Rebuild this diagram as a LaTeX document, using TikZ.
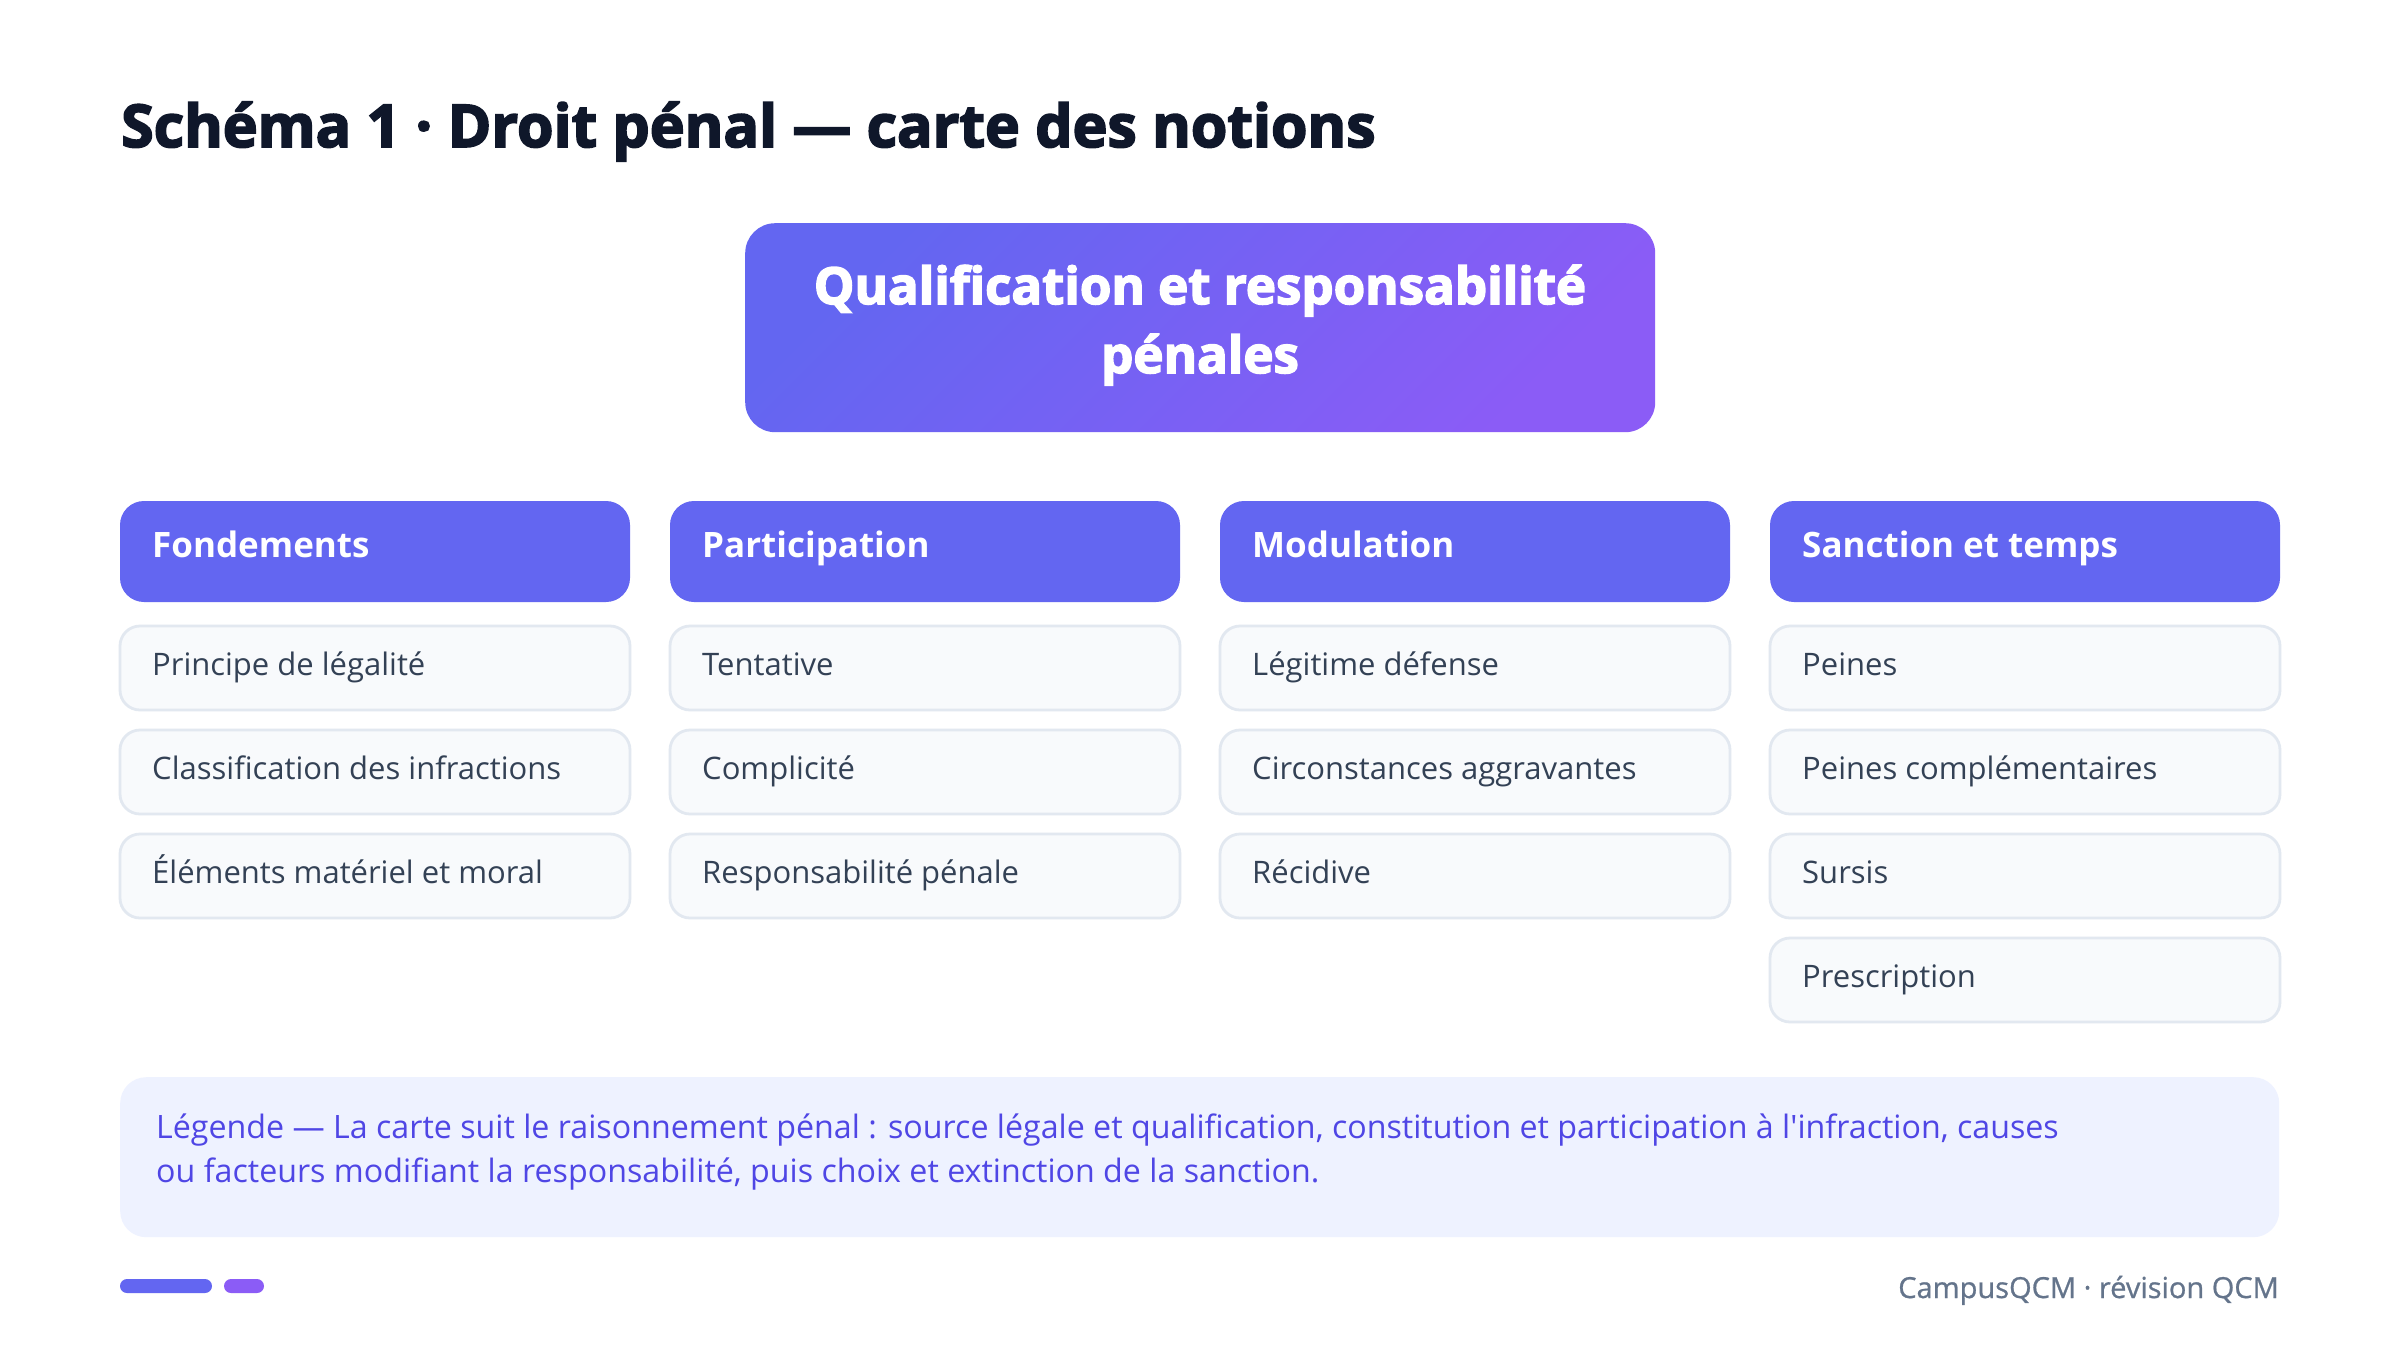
\documentclass[tikz,border=0pt]{standalone}
\usepackage{fontspec}
\setmainfont{Open Sans}
\newfontfamily\heavyfam{Open Sans}[UprightFont={* Bold}, FakeBold=3]
\newfontfamily\semifam{Open Sans}[FakeBold=0.8]
\newfontfamily\legfam{Open Sans}
\definecolor{ind}{HTML}{6366F1}
\definecolor{vio}{HTML}{8B5CF6}
\definecolor{ttl}{HTML}{0F172A}
\definecolor{itemfill}{HTML}{F8FAFC}
\definecolor{itemline}{HTML}{E2E8F0}
\definecolor{itemtext}{HTML}{334155}
\definecolor{legfill}{HTML}{EEF2FF}
\definecolor{legtext}{HTML}{4F46E5}
\definecolor{foottext}{HTML}{64748B}
\newcommand\ttlfont{\heavyfam\fontsize{59}{66}\selectfont}
\newcommand\ctrfont{\heavyfam\fontsize{51}{60}\selectfont}
\newcommand\hdrfont{\bfseries\fontsize{35}{42}\selectfont}
\newcommand\itmfont{\fontsize{31}{37}\selectfont}
\newcommand\legfont{\legfam\fontsize{32.2}{38}\selectfont}
\newcommand\ftrfont{\semifam\fontsize{29}{35}\selectfont}
\begin{document}
\begin{tikzpicture}[x=1pt,y=-1pt,
  hdr/.style={fill=ind, draw=none, rounded corners=24pt, minimum width=510pt, minimum height=101pt, anchor=north west, inner sep=0pt, outer sep=0pt},
  itembox/.style={fill=itemfill, draw=itemline, line width=2.8pt, rounded corners=20pt, minimum width=510pt, minimum height=84pt, anchor=north west, inner sep=0pt, outer sep=0pt},
  hdrtxt/.style={anchor=base west, inner sep=0pt, text=white, font=\hdrfont},
  itemtxt/.style={anchor=base west, inner sep=0pt, text=itemtext, font=\itmfont},
  ctrtxt/.style={anchor=base, inner sep=0pt, text=white, font=\ctrfont},
  legtxt/.style={anchor=base west, inner sep=0pt, text=legtext, font=\legfont},
]
\useasboundingbox[fill=white] (0,0) rectangle (2400,1347);

% title
\node[anchor=base west, inner sep=0pt, text=ttl, font=\ttlfont] (title) at (121,147) {Schéma 1 · Droit pénal — carte des notions};

% central box
\node[anchor=north west, minimum width=910pt, minimum height=209pt, rounded corners=30pt, left color=ind, right color=vio, shading angle=45, draw=none, inner sep=0pt] (core) at (745,223) {};
\node[ctrtxt] (core1) at (1200,304) {Qualification et responsabilité};
\node[ctrtxt] (core2) at (1200,373) {pénales};

% column 1
\node[hdr] (h1) at (120,501) {};
\node[hdrtxt] (h1t) at (152,557) {Fondements};
\node[itembox] (a1) at (120,626) {};
\node[itemtxt] (a1t) at (152,675) {Principe de légalité};
\node[itembox] (a2) at (120,730) {};
\node[itemtxt] (a2t) at (152,779) {Classification des infractions};
\node[itembox] (a3) at (120,834) {};
\node[itemtxt] (a3t) at (152,883) {Éléments matériel et moral};

% column 2
\node[hdr] (h2) at (670,501) {};
\node[hdrtxt] (h2t) at (702,557) {Participation};
\node[itembox] (b1) at (670,626) {};
\node[itemtxt] (b1t) at (702,675) {Tentative};
\node[itembox] (b2) at (670,730) {};
\node[itemtxt] (b2t) at (702,779) {Complicité};
\node[itembox] (b3) at (670,834) {};
\node[itemtxt] (b3t) at (702,883) {Responsabilité pénale};

% column 3
\node[hdr] (h3) at (1220,501) {};
\node[hdrtxt] (h3t) at (1252,557) {Modulation};
\node[itembox] (c1) at (1220,626) {};
\node[itemtxt] (c1t) at (1252,675) {Légitime défense};
\node[itembox] (c2) at (1220,730) {};
\node[itemtxt] (c2t) at (1252,779) {Circonstances aggravantes};
\node[itembox] (c3) at (1220,834) {};
\node[itemtxt] (c3t) at (1252,883) {Récidive};

% column 4
\node[hdr] (h4) at (1770,501) {};
\node[hdrtxt] (h4t) at (1802,557) {Sanction et temps};
\node[itembox] (d1) at (1770,626) {};
\node[itemtxt] (d1t) at (1802,675) {Peines};
\node[itembox] (d2) at (1770,730) {};
\node[itemtxt] (d2t) at (1802,779) {Peines complémentaires};
\node[itembox] (d3) at (1770,834) {};
\node[itemtxt] (d3t) at (1802,883) {Sursis};
\node[itembox] (d4) at (1770,938) {};
\node[itemtxt] (d4t) at (1802,987) {Prescription};

% legend
\node[anchor=north west, minimum width=2159pt, minimum height=160pt, rounded corners=26pt, fill=legfill, draw=none, inner sep=0pt] (leg) at (120,1077) {};
\node[legtxt] (leg1) at (156,1138) {Légende — La carte suit le raisonnement pénal : source légale et qualification, constitution et participation à l'infraction, causes};
\node[legtxt] (leg2) at (156,1182) {ou facteurs modifiant la responsabilité, puis choix et extinction de la sanction.};

% footer
\fill[ind, rounded corners=7pt] (120,1279) rectangle (212,1293);
\fill[vio, rounded corners=7pt] (224,1279) rectangle (264,1293);
\node[anchor=base east, inner sep=0pt, text=foottext, font=\ftrfont] (foot) at (2279,1298) {CampusQCM · révision QCM};
\end{tikzpicture}
\end{document}
